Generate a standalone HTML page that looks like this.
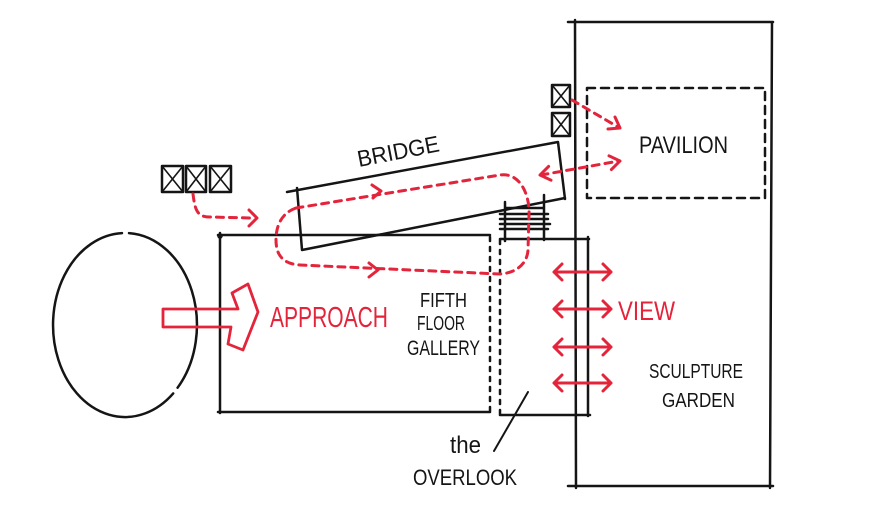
<!DOCTYPE html>
<html><head><meta charset="utf-8">
<style>
html,body{margin:0;padding:0;background:#fff;}
svg{display:block;}
text{font-family:"Liberation Sans",sans-serif;}
</style></head>
<body>
<svg width="882" height="526" viewBox="0 0 882 526" xmlns="http://www.w3.org/2000/svg">
<rect width="882" height="526" fill="#fff"/>
<g fill="none" stroke="#151515" stroke-width="2.5" stroke-linecap="round" stroke-linejoin="round">
  <!-- ellipse with gaps -->
  <path d="M129 233.1 A72 92 0 0 1 177.6 387.7 M173.2 393.4 A72 92 0 1 1 122 233.1"/>
  <!-- gallery rect -->
  <path d="M218 235 L490 235 M220 233 L220 413 M218 412 L490 412"/>
  <circle cx="220" cy="236" r="2" stroke-width="1.5"/>
  <!-- dotted verticals -->
  <path d="M490 237 L490 412" stroke-dasharray="4 6"/>
  <path d="M500 240 L500 414" stroke-dasharray="4 6"/>
  <!-- overlook -->
  <path d="M500 239 L589 239 M588 237 L588 416 M500 415 L590 415"/>
  <!-- tall rect -->
  <path d="M568 22 L773 22 M575 20 L576 488 M772 22 L770 488 M568 486 L773 486"/>
  <!-- bridge -->
  <path d="M287 192 L558 142 M297 188 L302 250 L565 198 M558 142 L565 199"/>
  <!-- stairs -->
  <path d="M505 208 L543 208 M500 214 L548 214 M500 219 L548 219 M500 224 L550 224 M500 229 L548 229 M505 202 L505 241 M544 195 L544 240"/>
  <!-- left elevator boxes -->
  <rect x="162" y="166" width="21" height="26"/>
  <rect x="186" y="166" width="20" height="26"/>
  <rect x="210" y="166" width="21" height="26"/>
  <path d="M162 166 L183 192 M183 166 L162 192 M186 166 L206 192 M206 166 L186 192 M210 166 L231 192 M231 166 L210 192" stroke-width="1.6"/>
  <!-- right elevator boxes -->
  <rect x="552" y="85" width="18" height="22"/>
  <rect x="552" y="113" width="18" height="23"/>
  <path d="M552 85 L570 107 M570 85 L552 107 M552 113 L570 136 M570 113 L552 136" stroke-width="1.6"/>
  <!-- pavilion dashed -->
  <rect x="587" y="88" width="178" height="110" stroke-dasharray="8 6"/>
  <!-- overlook leader -->
  <path d="M494 451 L528 392" stroke-width="2"/>
</g>

<g fill="none" stroke="#e3243b" stroke-width="3" stroke-linecap="round" stroke-linejoin="round">
  <!-- loop -->
  <path d="M296 208 L500 175 C520 172 530 195 529 215 L528 250 C527 265 515 273 500 274 L300 265 C283 264 276 255 276 240 C276 225 282 213 296 208" stroke-dasharray="7 6"/>
  <path d="M372 185 L381 191 L373 198"/>
  <path d="M369 263 L378 270 L369 277"/>
  <!-- from left elevators -->
  <path d="M193 194 C195 210 197 217 210 217 L252 218" stroke-dasharray="7 6"/>
  <path d="M249 210 L257 218 L249 226"/>
  <!-- from right elevators -->
  <path d="M572 100 L618 127" stroke-dasharray="7 6"/>
  <path d="M608 129 L620 128 L615 117"/>
  <!-- bidirectional to pavilion -->
  <path d="M541 175 L619 161" stroke-dasharray="7 6"/>
  <path d="M611.4 169.6 L620 161 L609 155.8"/>
  <path d="M551 180.2 L540 175 L548.6 166.4"/>
  <!-- approach arrow -->
  <path d="M163 309 L238 309 L232 293 L248 284 L258 312 L243 350 L228 344 L231 327 L163 327 Z" stroke-width="2.8"/>
  <!-- view arrows -->
  <path d="M554 272 L611 272 M562 264 L554 272 L562 280 M603 264 L611 272 L603 280"/>
  <path d="M554 309 L611 309 M562 301 L554 309 L562 317 M603 301 L611 309 L603 317"/>
  <path d="M554 347 L611 347 M562 339 L554 347 L562 355 M603 339 L611 347 L603 355"/>
  <path d="M554 383 L611 383 M562 375 L554 383 L562 391 M603 375 L611 383 L603 391"/>
</g>

<g fill="#151515">
  <text x="359" y="167" font-size="23" textLength="83" lengthAdjust="spacingAndGlyphs" transform="rotate(-11 359 167)">BRIDGE</text>
  <text x="639" y="153" font-size="24" textLength="89" lengthAdjust="spacingAndGlyphs">PAVILION</text>
  <text x="420" y="307" font-size="20" textLength="47" lengthAdjust="spacingAndGlyphs">FIFTH</text>
  <text x="417" y="330" font-size="20" textLength="48" lengthAdjust="spacingAndGlyphs">FLOOR</text>
  <text x="407" y="355" font-size="21" textLength="73" lengthAdjust="spacingAndGlyphs">GALLERY</text>
  <text x="649" y="378" font-size="20" textLength="94" lengthAdjust="spacingAndGlyphs">SCULPTURE</text>
  <text x="662" y="407" font-size="20" textLength="73" lengthAdjust="spacingAndGlyphs">GARDEN</text>
  <text x="450" y="453" font-size="24" textLength="31" lengthAdjust="spacingAndGlyphs">the</text>
  <text x="413" y="485" font-size="22" textLength="104" lengthAdjust="spacingAndGlyphs">OVERLOOK</text>
</g>
<g fill="#e3243b">
  <text x="270" y="327" font-size="29" textLength="118" lengthAdjust="spacingAndGlyphs">APPROACH</text>
  <text x="618" y="320" font-size="27" textLength="57" lengthAdjust="spacingAndGlyphs">VIEW</text>
</g>
</svg>
</body></html>
